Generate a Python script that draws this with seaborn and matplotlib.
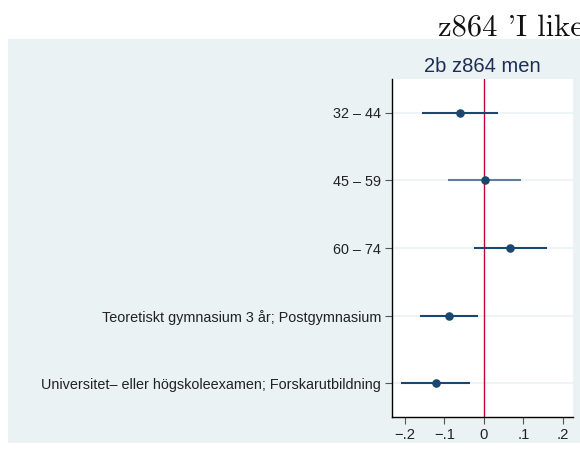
import matplotlib
matplotlib.use("Agg")
import matplotlib.pyplot as plt
import seaborn as sns
import pandas as pd

categories = ["32 – 44", "45 – 59", "60 – 74",
              "Teoretiskt gymnasium 3 år; Postgymnasium",
              "Universitet– eller högskoleexamen; Forskarutbildning"]
estimates = [-0.060, 0.002, 0.067, -0.088, -0.122]
ci_low = [-0.156, -0.091, -0.026, -0.162, -0.211]
ci_high = [0.036, 0.095, 0.161, -0.014, -0.035]
ci_colors = ["#1a476f", "#5f7e9c", "#1a476f", "#1a476f", "#1a476f"]
xtick_vals = [-0.2, -0.1, 0.0, 0.1, 0.2]
xtick_labels = ["−.2", "−.1", "0", ".1", ".2"]

df = pd.DataFrame({"cat": categories, "est": estimates, "lo": ci_low, "hi": ci_high})

sns.set_theme(style="white")
plt.rcParams["font.family"] = ["Liberation Sans", "DejaVu Sans"]

fig = plt.figure(figsize=(5.8, 4.53), dpi=100)
fig.patch.set_facecolor("white")

bg = fig.add_axes([8 / 580, 1 - 443 / 453, 1.0, (443 - 39) / 453], zorder=-1)
bg.set_facecolor("#eaf2f3")
bg.set_xticks([])
bg.set_yticks([])
for s in bg.spines.values():
    s.set_visible(False)

ax = fig.add_axes([392 / 580, 1 - 417 / 453, (573 - 392) / 580, (417 - 79) / 453], zorder=1)
ax.set_facecolor("white")

ypos = list(range(len(categories)))
for y in ypos:
    ax.axhline(y, color="#eaf2f3", lw=1.2, zorder=1)
ax.axvline(0, color="#c10534", lw=1.0, zorder=2)
ax.hlines(ypos, df["lo"], df["hi"], colors=ci_colors, lw=1.5, zorder=3)
sns.scatterplot(x=df["est"], y=ypos, ax=ax, color="#1a476f", s=38,
                edgecolor="#1a476f", linewidth=0, zorder=4, legend=False)

ax.set_ylim(len(categories) - 0.5, -0.5)
ax.set_xlim(-0.233, 0.226)
ax.set_yticks(ypos)
ax.set_yticklabels(categories, fontsize=10.4, color="#222222")
ax.set_xticks(xtick_vals)
ax.set_xticklabels(xtick_labels, fontsize=10.6, color="#222222")
ax.set_xlabel("")
ax.set_ylabel("")
ax.tick_params(axis="both", length=5, width=0.8, color="#555555", pad=3,
               left=True, bottom=True)
for s in ["top", "right"]:
    ax.spines[s].set_visible(False)
for s in ["left", "bottom"]:
    ax.spines[s].set_color("black")
    ax.spines[s].set_linewidth(1.0)

ax.set_title("2b z864 men", fontsize=14.5, color="#1e2d53", pad=5)

fig.text(438 / 580, 1 - 36 / 453, "z864 'I like", family="cmr10", fontsize=22,
         color="#111111", ha="left", va="baseline")

fig.savefig("out.png", dpi=100, facecolor="white")
